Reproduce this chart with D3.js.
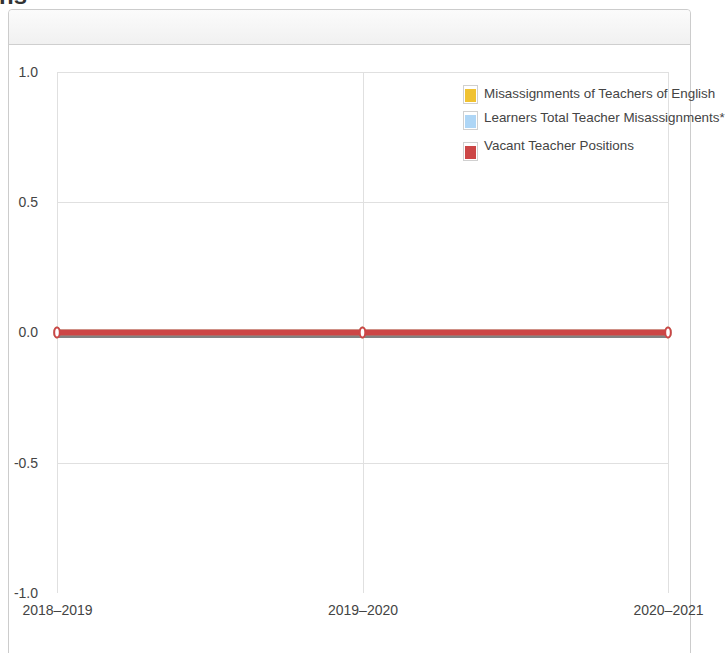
<!DOCTYPE html>
<html lang="en">
<head>
    <meta charset="UTF-8">
    <title>Teacher Misassignments</title>
    <script src="https://d3js.org/d3.v7.min.js"></script>
    <style>
        body { margin: 0; background: #fff; font-family: "Liberation Sans", Arial, sans-serif; }
    </style>
</head>
<body>
    <div id="chart"></div>

    <script>
        // Data
        var years = ['2018–2019', '2019–2020', '2020–2021'];
        var englishMisassignments = [0, 0, 0];
        var learnersMisassignments = [0, 0, 0];
        var vacantPositions = [0, 0, 0];
        var yTicks = [-1.0, -0.5, 0.0, 0.5, 1.0];
        var seriesNames = ['Misassignments of Teachers of English', 'Learners Total Teacher Misassignments*', 'Vacant Teacher Positions'];
        var seriesColors = ['#f0c232', '#aed6f6', '#cc4646'];

        var width = 725, height = 653;
        var margin = { top: 72, right: 57, bottom: 60, left: 57 };

        var svg = d3.select("#chart")
            .append("svg")
            .attr("width", width)
            .attr("height", height);

        // Cut-off page title
        svg.append("text")
            .attr("x", -1)
            .attr("y", 4)
            .style("font-size", "24px")
            .style("font-weight", "bold")
            .style("fill", "#333")
            .text("ns");

        // Panel with header
        var grad = svg.append("defs").append("linearGradient")
            .attr("id", "hdr").attr("x1", 0).attr("y1", 0).attr("x2", 0).attr("y2", 1);
        grad.append("stop").attr("offset", "0%").attr("stop-color", "#fbfbfb");
        grad.append("stop").attr("offset", "100%").attr("stop-color", "#f1f1f1");

        svg.append("path")
            .attr("d", "M8.5,700 V13 Q8.5,9.5 12,9.5 H687 Q690.5,9.5 690.5,13 V700")
            .attr("fill", "#fff")
            .attr("stroke", "#cccccc");
        svg.append("path")
            .attr("d", "M9,44 V13.5 Q9,10 12.5,10 H686.5 Q690,10 690,13.5 V44 Z")
            .attr("fill", "url(#hdr)");
        svg.append("line")
            .attr("x1", 9).attr("x2", 690)
            .attr("y1", 44.5).attr("y2", 44.5)
            .attr("stroke", "#cfcfcf");

        // Scales
        var x = d3.scalePoint()
            .domain(years)
            .range([margin.left, 668]);

        var y = d3.scaleLinear()
            .domain([-1, 1])
            .range([593, margin.top]);

        // Gridlines
        svg.append("g")
            .selectAll("line")
            .data(yTicks.filter(function (d) { return d !== -1; }))
            .enter()
            .append("line")
            .attr("x1", margin.left).attr("x2", 668)
            .attr("y1", function (d) { return Math.round(y(d)) + 0.5; })
            .attr("y2", function (d) { return Math.round(y(d)) + 0.5; })
            .attr("stroke", "#e0e0e0");

        svg.append("g")
            .selectAll("line")
            .data(years)
            .enter()
            .append("line")
            .attr("x1", function (d) { return Math.round(x(d)) + 0.5; })
            .attr("x2", function (d) { return Math.round(x(d)) + 0.5; })
            .attr("y1", y(1)).attr("y2", y(-1))
            .attr("stroke", "#e0e0e0");

        // Y axis labels
        var yAxis = svg.append("g")
            .attr("transform", "translate(38,0)")
            .call(d3.axisLeft(y).tickValues(yTicks)
                .tickFormat(function (d) { return d.toFixed(1); })
                .tickSize(0).tickPadding(0));
        yAxis.select(".domain").remove();
        yAxis.selectAll("text")
            .style("font-family", "'Liberation Sans', Arial, sans-serif")
            .style("font-size", "14px")
            .attr("fill", "#444");

        // X axis labels
        var xAxis = svg.append("g")
            .attr("transform", "translate(0,605)")
            .call(d3.axisBottom(x).tickSize(0).tickPadding(0));
        xAxis.select(".domain").remove();
        xAxis.selectAll("text")
            .style("font-family", "'Liberation Sans', Arial, sans-serif")
            .style("font-size", "14px")
            .attr("fill", "#444");

        // Lines
        var allSeries = [englishMisassignments, learnersMisassignments, vacantPositions];
        var line = d3.line()
            .x(function (d, i) { return x(years[i]); })
            .y(function (d) { return y(d); });

        allSeries.forEach(function (values, s) {
            svg.append("path")
                .datum(values)
                .attr("d", line)
                .attr("transform", "translate(1,2.5)")
                .attr("fill", "none")
                .attr("stroke", "#000")
                .attr("stroke-opacity", 0.2)
                .attr("stroke-width", 6);
            svg.append("path")
                .datum(values)
                .attr("d", line)
                .attr("fill", "none")
                .attr("stroke", seriesColors[s])
                .attr("stroke-width", 6);
            svg.selectAll(null)
                .data(values)
                .enter()
                .append("ellipse")
                .attr("cx", function (d, i) { return x(years[i]); })
                .attr("cy", function (d) { return y(d); })
                .attr("rx", 2.8)
                .attr("ry", 5)
                .attr("fill", "#fff")
                .attr("stroke", seriesColors[s])
                .attr("stroke-width", 2);
        });

        // Legend
        var legend = svg.append("g")
            .attr("transform", "translate(463,85)");
        var legendRowsY = [0, 26, 57];
        var legendTextY = [13, 37, 65];
        seriesNames.forEach(function (name, i) {
            legend.append("rect")
                .attr("x", 0.5).attr("y", legendRowsY[i] + 0.5)
                .attr("width", 14).attr("height", 18)
                .attr("fill", "#fff")
                .attr("stroke", "#d0d0d0");
            legend.append("rect")
                .attr("x", 2).attr("y", legendRowsY[i] + 4)
                .attr("width", 11).attr("height", 13)
                .attr("fill", seriesColors[i]);
            legend.append("text")
                .attr("x", 21).attr("y", legendTextY[i])
                .style("font-size", "13.4px")
                .style("fill", "#444")
                .text(name);
        });
    </script>
</body>
</html>
